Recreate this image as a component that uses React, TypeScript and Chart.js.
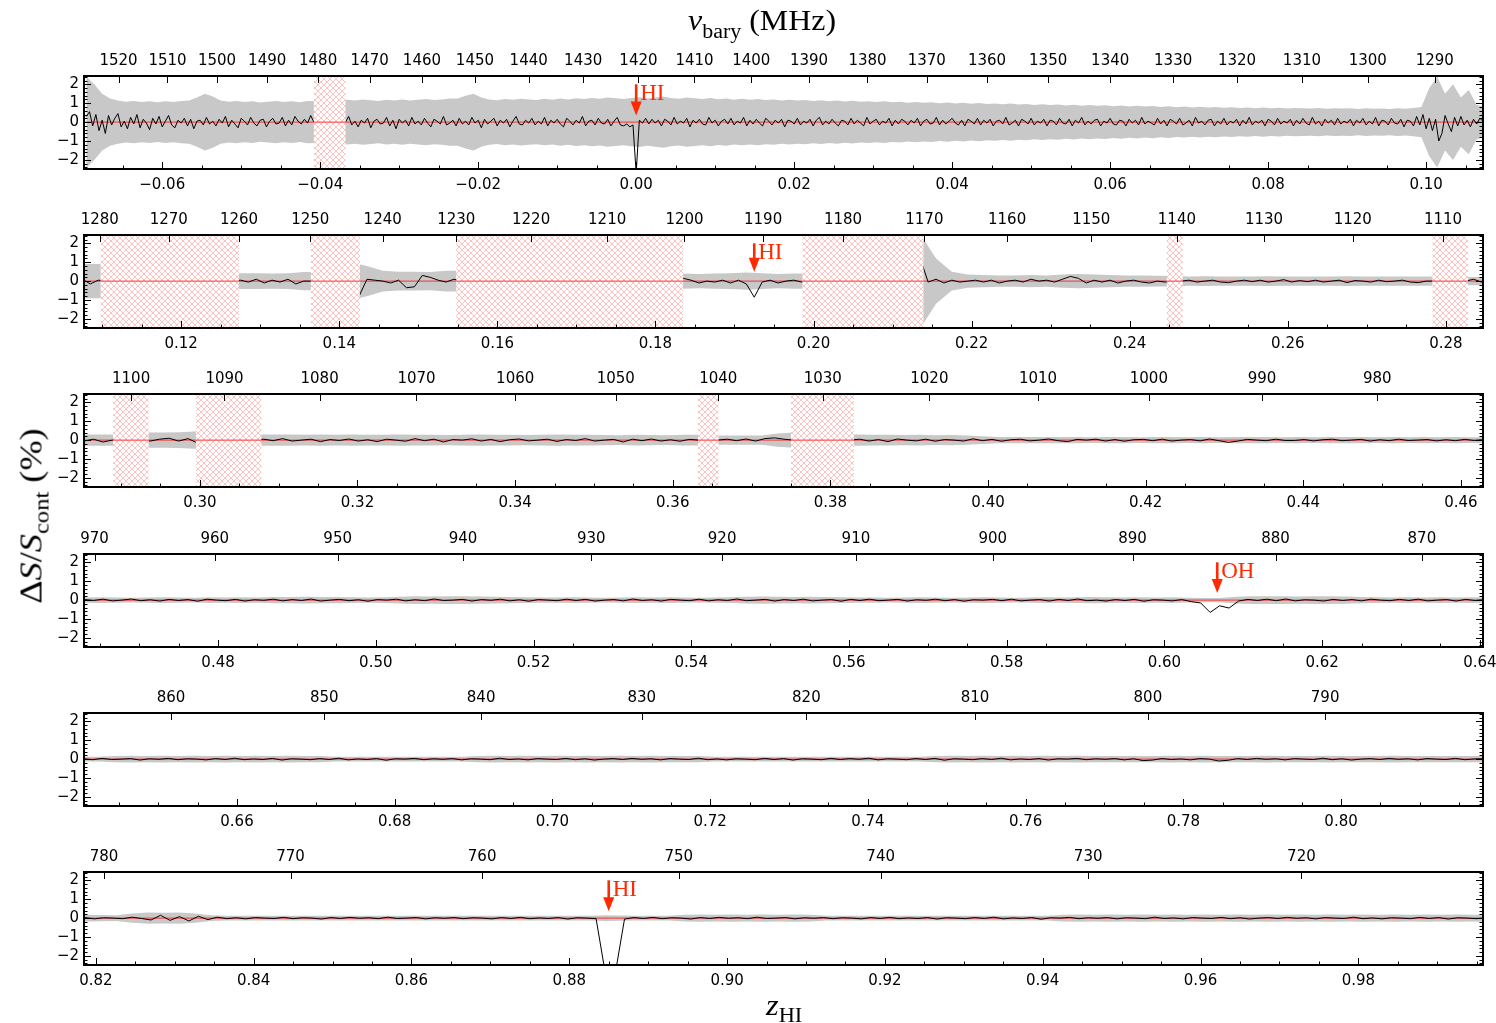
import React, { useEffect, useRef } from "react";
import { Chart, registerables } from "chart.js";
Chart.register(...registerables);

// ---------------- data ----------------
const NU_HI = 1420.405752; // MHz, rest frequency of HI

// panel z ranges
const range1 = [-0.0699, 0.1072];
const range2 = [0.1077, 0.2847];
const range3 = [0.2853, 0.4628];
const range4 = [0.463, 0.6404];
const range5 = [0.6406, 0.818];
const range6 = [0.8185, 0.9958];

// bottom tick labels (z)
const zTicks1 = [-0.06, -0.04, -0.02, 0.0, 0.02, 0.04, 0.06, 0.08, 0.1];
const zTicks2 = [0.12, 0.14, 0.16, 0.18, 0.2, 0.22, 0.24, 0.26, 0.28];
const zTicks3 = [0.3, 0.32, 0.34, 0.36, 0.38, 0.4, 0.42, 0.44, 0.46];
const zTicks4 = [0.48, 0.5, 0.52, 0.54, 0.56, 0.58, 0.6, 0.62, 0.64];
const zTicks5 = [0.66, 0.68, 0.7, 0.72, 0.74, 0.76, 0.78, 0.8];
const zTicks6 = [0.82, 0.84, 0.86, 0.88, 0.9, 0.92, 0.94, 0.96, 0.98];

// top tick labels (barycentric frequency, MHz)
const fTicks1 = [1520, 1510, 1500, 1490, 1480, 1470, 1460, 1450, 1440, 1430, 1420, 1410, 1400, 1390, 1380, 1370, 1360, 1350, 1340, 1330, 1320, 1310, 1300, 1290];
const fTicks2 = [1280, 1270, 1260, 1250, 1240, 1230, 1220, 1210, 1200, 1190, 1180, 1170, 1160, 1150, 1140, 1130, 1120, 1110];
const fTicks3 = [1100, 1090, 1080, 1070, 1060, 1050, 1040, 1030, 1020, 1010, 1000, 990, 980];
const fTicks4 = [970, 960, 950, 940, 930, 920, 910, 900, 890, 880, 870];
const fTicks5 = [860, 850, 840, 830, 820, 810, 800, 790];
const fTicks6 = [780, 770, 760, 750, 740, 730, 720];

// RFI-masked z intervals
const masks1 = [[-0.0408, -0.0368]];
const masks2 = [[0.1098, 0.1273], [0.1364, 0.1426], [0.1548, 0.1835], [0.1986, 0.2139], [0.2447, 0.2467], [0.2783, 0.2828]];
const masks3 = [[0.289, 0.2935], [0.2995, 0.3078], [0.3632, 0.3658], [0.375, 0.383]];
const masks4: number[][] = [];
const masks5: number[][] = [];
const masks6: number[][] = [];

// spectrum channel grids (start z, channel width in z)
const specStart = [-0.0696, 0.1075, 0.2853, 0.463, 0.6405, 0.8186];
const specStep = [0.0004, 0.001, 0.0012, 0.0012, 0.0012, 0.0012];

// spectra, dS/Scont in units of 0.01 %
const spec1 = [
  30, 55, -20, 40, -45, 10, -60, 35, -15, 20, 45, -25, 5, -35, 25, -10, 40, -30, 15, -5,
  -40, 20, -10, 30, -25, 5, 35, -15, -30, 10, -5, 20, -20, 15, -35, 5, 10, -15, 25, -10,
  5, -20, 15, -5, 30, -25, 10, -10, -30, 20, 5, -15, 25, -5, -20, 10, 15, -25, 5, 20,
  -10, -5, 25, -20, 10, -15, 30, 5, -10, 15, -5, 35, 0, 0, 0, 0, 0, 0, 0, 0,
  0, 0, 0, 30, -15, 5, -25, 10, -5, 20, -30, 5, 15, -10, -5, 25, -20, 10, -35, 15,
  -5, 10, -20, 25, -10, 5, -15, 20, -5, -25, 15, 5, -10, 30, -15, -5, 10, -20, 20, -10,
  5, -15, 25, -5, 10, -30, 15, -10, 5, 20, -20, 10, -5, 15, -25, 5, 30, -10, -15, 10,
  -5, 20, -15, 5, -10, 25, -20, 10, -5, 15, -10, -25, 20, 5, -15, 10, -5, 30, -20, 5,
  10, -15, 20, -5, -10, 15, -20, 5, 25, -15, -20, -10, -25, -15, -270, 10, -5, 20, -10, 15,
  -5, 10, -20, 15, 5, -15, 25, -10, 5, -5, 20, -25, 10, -5, 15, -10, -15, 25, -5, 10,
  -20, 5, 15, -10, 20, -15, 5, -5, 25, -20, 10, -10, 15, -5, -20, 20, 5, -15, 10, -5,
  15, -25, 10, 5, -10, 20, -15, 5, -5, 15, -20, 10, 25, -15, 5, -10, 15, -5, -20, 10,
  5, -15, 20, -10, 10, -5, -20, 25, -10, 5, 15, -15, 5, -5, 20, -20, 10, -10, 15, 5,
  -15, 10, -5, 20, -20, 5, 15, -10, -5, 25, -15, 10, -10, 5, 20, -5, -15, 10, -20, 15,
  5, -10, 20, -15, 10, -5, 15, -20, 5, 10, -10, 25, -15, -5, 10, -20, 15, 5, -10, 20,
  -15, 5, -5, 15, -20, 10, 5, -15, 20, -5, -10, 15, -20, 10, -5, 25, -15, 5, -10, 10,
  15, -20, 5, -5, 20, -10, -15, 10, 5, -20, 15, -5, 10, -15, 25, -10, 5, -5, -15, 20,
  -10, 10, -20, 15, 5, -10, 20, -15, -5, 10, -20, 25, -5, 5, -15, 10, 15, -20, 5, -10,
  20, -15, 5, -5, 15, -20, 10, -10, 25, -15, 5, -5, 10, -20, 15, 5, -15, 20, -10, 5,
  -5, 15, -20, 10, -10, 20, -5, -15, 25, -10, 5, -20, 15, -5, 10, -15, 20, -10, 5, -5,
  15, -20, 10, -5, 20, -15, 5, -10, 25, -20, 10, 5, -15, 20, -5, -10, 15, -25, 10, 5,
  -20, 30, -15, 40, -35, 20, -45, 15, -100, -60, 35, -10, -50, 25, -20, 30, -15, 10, -25, 15,
  -10, 20, 5,
];
const spec2 = [
  10, -15, 5,
  0, 0, 0, 0, 0, 0, 0, 0, 0, 0, 0, 0, 0, 0, 0, 0, 0,
  5, -5, 10, -10, 5, -5, 10, -15, 0,
  0, 0, 0, 0, 0, 0,
  -80,
  10, 5, 0, -10, 5, -35, -30, 30, 20, 5, -5, 10,
  0, 0, 0, 0, 0, 0, 0, 0, 0, 0, 0, 0, 0, 0, 0, 0, 0, 0, 0, 0, 0, 0, 0, 0, 0, 0, 0, 0,
  15, 5, -10, 0, -5, 5, -10, 5, -15, -85, -5, 5, -10, 0, 5, -5,
  0, 0, 0, 0, 0, 0, 0, 0, 0, 0, 0, 0, 0, 0,
  120,
  -5, 10, -10, 5, -5, 0, 5, -5, 5, -10, 0, 5, -5, 10, 0, 5, -5, 10, 25, 15, -10, 5, -5, 5, -10, 0, 5, -5, -10, 0, -5,
  0, 0,
  5, -5, 0, 5, -5, -8, 0, 5, -3, 5, -5, 0, 8, -5, 3, -3, 5, -5, 0, 5, -8, 3, 0, -5, 5, -3, 0, 5, -5, -8, 0,
  0, 0, 0, 0, 0,
  10, -5, 5,
];
const spec3 = [
  -5, 5, -10, 0,
  0, 0, 0,
  -5, 5, 10, -5, 8,
  -15,
  0, 0, 0, 0, 0, 0,
  5, -3, 8, -5, 0, 5, -8, 3, -2, 6,
  -5, 2, -8, 5, 0, -6, 8, -3, 5, -10,
  3, 0, 7, -5, 4, -8, 2, 6, -4, 0,
  5, -7, 3, -2, 8, -5, 0, 4, -10, 5,
  -3, 6, -5, 2, -6, 4,
  0, 0, 0,
  5, -3, 6, -5, 8, 12, 5,
  0, 0, 0, 0, 0, 0, 0,
  5, -5, 3, -8, 6, 0, -4, 5, -6, 3,
  0, -5, 7, -3, 4, -6, 2, 5, -4, 0,
  6, -3, -8, 4, 0, 5, -5, 3, -6, 2,
  4, -3, 5, -5, 0, 3, -4, 6, -3, -12,
  -5, 4, 0, -3, 5, -2, -2, 3, -4, 2,
  5, -3, 0, 4, -5, 2, -3, 5, -2, 0,
  3, -4, 2, -3, 4, -2, 3,
];
const spec4 = [
  3, -2, 5, -4, 0, 6, -3, 2, -5, 4,
  -2, 3, -6, 5, 0, -3, 4, -5, 2, -1,
  5, -4, 3, -2, 6, -5, 0, 4, -3, 2,
  -6, 3, 0, 5, -4, 2, -3, 6, -2, 0,
  4, -5, 3, -1, 5, -4, 2, -6, 3, 0,
  -3, 5, -2, 4, -5, 0, 3, -4, 6, -2,
  2, -5, 4, 0, -3, 5, -4, 2, -2, 6,
  -3, 0, 4, -5, 3, -2, 5, -4, 0, 3,
  -6, 4, -2, 5, -3, 0, 4, -5, 2, -1,
  5, -3, 3, -6, 2, 0, 4, -3, 5, -4,
  0, 3, -5, 4, -2, 6, -3, 0, -5, 3,
  -2, 4, -6, 2, 0, -4, 3, -8,
  -15, -65, -30, -42, -5,
  4, -2, 5, -3, 6, -4, 2,
  0, -5, 4, -2, 3, -4, 5, 0, -3, 4,
  -2, 5, -4, 0, 3, -5, 4, -2, 3,
];
const spec5 = [
  2, -3, 4, -2, 0, 3, -5, 2, -1, 4,
  -3, 2, 0, -4, 3, -2, 5, -3, 1, -2,
  4, -5, 2, 0, -3, 3, -2, 5, -4, 1,
  -2, 3, -6, 2, 0, 4, -3, 2, -1, 3,
  -4, 2, 0, -3, 5, -2, 1, -4, 3, 0,
  -2, 4, -3, 2, -5, 0, 3, -2, 4, -1,
  2, -4, 3, 0, -2, 5, -3, 1, -4, 2,
  0, -3, 4, -2, 3, -5, 2, 0, -3, 4,
  -2, 3, -1, 5, -4, 2, 0, -3, 3, -2,
  4, -6, 2, 0, -3, 3, -2, 5, -4, 1,
  -2, 3, -5, 2, 0, 4, -3, 2, -1, 3,
  -4, 2, -8, -5, 3, -2, 1, -4, 3, 0,
  -10, -6, 3, -2, 4, -1, 2, -4, 3, 0,
  -2, 5, -3, 2, -5, 0, 3, -2, 4, -1,
  2, -4, 3, 0, -2, 4, -3, 1, 2,
];
const spec6 = [
  3, -4, 2, 0, -3, 5, -2, -10, 15, -12,
  8, -15, 10, -8, 5, -3, 2, -4, 3, 0,
  -2, 4, -3, 2, 0, -5, 3, -2, 4, -1,
  2, -3, 5, -2, 0, 3, -4, 2, -1, 3,
  -3, 2, 0, -4, 3, -2, 4, -3, 1, -2,
  3, -5, 2, 0,
  -3, -300, -300, -5,
  3, -2,
  4, -3, 2, 0, -5, 3, -2, 4, -1, 2,
  -3, 5, -2, 0, 3, -4, 2, -1, 3, -3,
  2, 0, -4, 3, -2, 4, -3, 1, -2, 3,
  -5, 2, 0, -3, 3, -2, 5, -4, 1, -2,
  3, -6, 2, 0, 4, -3, 2, -1, 3, -4,
  2, 0, -3, 5, -2, 1, -4, 3, 0, -2,
  4, -3, 2, -5, 0, 3, -2, 4, -1, 2,
  -4, 3, 0, -2, 5, -3, 1, -4, 2, 0,
  -3, 4, -2, 3, -5, 2, 0, -3, 2,
];

// 1-sigma noise envelope, units of 0.01 %, sampled on a regular z grid
const sigStart = [-0.0696, 0.1075, 0.2853, 0.463, 0.6405, 0.8186];
const sigStep = [0.001, 0.002, 0.002, 0.002, 0.002, 0.002];
const sigma1 = [
  240, 200, 150, 125, 115, 108, 112, 106, 110, 105,
  110, 107, 112, 115, 130, 150, 135, 115, 108, 112,
  106, 110, 104, 108, 112, 107, 110, 105, 112, 110,
  110, 112, 112, 118, 114, 120, 116, 112, 118, 115,
  120, 114, 118, 122, 117, 120, 125, 125, 140, 150,
  130, 120, 116, 122, 118, 124, 120, 117, 123, 119,
  125, 120, 126, 122, 128, 124, 130, 126, 122, 128,
  132, 125, 130, 135, 128, 124, 130, 126, 122, 127,
  121, 125, 119, 123, 118, 122, 117, 120, 115, 119,
  114, 117, 112, 116, 111, 114, 109, 113, 108, 111,
  106, 110, 105, 108, 103, 107, 102, 105, 100, 104,
  99, 102, 97, 101, 96, 99, 94, 98, 93, 96,
  91, 95, 90, 93, 88, 92, 87, 90, 86, 89,
  84, 88, 83, 86, 82, 85, 80, 84, 79, 82,
  78, 81, 77, 80, 76, 79, 75, 78, 74, 77,
  73, 76, 72, 75, 74, 72, 75, 71, 74, 72,
  73, 70, 74, 71, 72, 70, 73, 71, 75, 80,
  180, 240, 150, 200, 130, 170, 90, 80,
];
const sigma2 = [
  90, 90, 90, 90, 80, 70, 60, 50, 42, 42,
  42, 42, 40, 42, 48, 48, 100, 100, 80, 55,
  50, 50, 48, 55, 55, 55, 50, 50, 50, 50,
  50, 45, 45, 45, 45, 40, 40, 40, 40, 38,
  40, 42, 45, 42, 38, 40, 40, 40, 40, 40,
  40, 60, 100, 250, 120, 50, 35, 32, 30, 30,
  32, 30, 35, 38, 35, 32, 30, 30, 28, 28,
  25, 26, 25, 24, 25, 26, 25, 24, 25, 25,
  26, 25, 24, 25, 24, 25, 25, 22, 22, 22,
];
const sigma3 = [
  30, 30, 30, 40, 40, 40, 42, 45, 45, 30,
  30, 30, 30, 30, 28, 30, 28, 30, 28, 28,
  30, 28, 28, 27, 28, 30, 28, 28, 27, 28,
  30, 28, 28, 27, 26, 28, 27, 26, 28, 28,
  25, 25, 24, 25, 35, 40, 30, 30, 30, 30,
  28, 28, 27, 28, 26, 27, 25, 20, 17, 17,
  16, 17, 16, 16, 15, 17, 16, 15, 16, 17,
  15, 16, 15, 16, 17, 16, 15, 16, 15, 16,
  17, 16, 15, 16, 15, 16, 15, 16, 15, 16,
];
const sigma4 = [
  14, 15, 14, 13, 14, 15, 14, 13, 15, 14,
  15, 14, 16, 17, 18, 17, 16, 15, 14, 15,
  18, 20, 19, 20, 21, 19, 18, 16, 15, 14,
  14, 15, 14, 13, 14, 15, 14, 15, 14, 13,
  14, 15, 18, 19, 18, 17, 18, 16, 15, 14,
  14, 13, 14, 15, 14, 13, 14, 15, 14, 13,
  14, 15, 14, 15, 16, 15, 14, 15, 14, 15,
  12, 11, 11, 18, 20, 21, 20, 19, 20, 21,
  19, 16, 15, 14, 15, 14, 15, 14, 15, 14,
];
const sigma5 = [
  12, 13, 17, 18, 17, 18, 17, 18, 17, 18,
  17, 18, 17, 18, 17, 16, 12, 12, 13, 12,
  12, 13, 12, 13, 12, 17, 18, 17, 18, 17,
  18, 17, 18, 17, 18, 17, 18, 17, 16, 17,
  13, 12, 13, 12, 13, 12, 13, 12, 12, 13,
  12, 13, 12, 13, 17, 18, 17, 18, 17, 18,
  17, 18, 17, 18, 17, 16, 17, 16, 17, 18,
  17, 18, 17, 16, 17, 18, 17, 16, 17, 18,
  17, 16, 17, 18, 17, 16, 17, 16, 17, 16,
];
const sigma6 = [
  18, 17, 15, 25, 30, 28, 30, 25, 15, 13,
  12, 13, 12, 13, 12, 13, 12, 13, 12, 13,
  12, 13, 12, 13, 12, 13, 12, 13, 12, 13,
  12, 13, 13, 15, 14, 12, 13, 12, 18, 19,
  18, 19, 18, 19, 18, 19, 18, 13, 12, 13,
  12, 13, 12, 13, 12, 13, 12, 13, 12, 13,
  12, 13, 18, 19, 18, 19, 18, 19, 18, 19,
  18, 19, 18, 19, 18, 19, 18, 19, 18, 19,
  18, 19, 18, 19, 18, 19, 18, 19, 18, 19,
];

// line identifications: panel index, z, label, arrow tip (in %)
const linePanels = [0, 1, 3, 5];
const lineZ = [0.0, 0.1925, 0.6067, 0.885];
const lineLabels = ["HI", "HI", "OH", "HI"];
const lineTips = [0.35, 0.5, 0.38, 0.36];

// ---------------- layout & style ----------------
const W = 1496;
const PANEL_TOPS = [76, 235, 394, 554, 713, 872];
const PLOT_H = 93;
const TOP_H = 45;
const BOT_H = 32;
const LEFT_W = 84;
const RIGHT_PAD = 13;
const CANVAS_H = TOP_H + PLOT_H + BOT_H;
const Y_MIN = -2.48;
const Y_MAX = 2.44;
const GRAY = "#c8c8c8";
const RED = "#ff3030";
const ARROW = "#ff2a00";
const TICK_FONT = { family: "DejaVu Sans", size: 15 };

const ranges = [range1, range2, range3, range4, range5, range6];
const zTicks = [zTicks1, zTicks2, zTicks3, zTicks4, zTicks5, zTicks6];
const fTicks = [fTicks1, fTicks2, fTicks3, fTicks4, fTicks5, fTicks6];
const masks = [masks1, masks2, masks3, masks4, masks5, masks6];
const specs = [spec1, spec2, spec3, spec4, spec5, spec6];
const sigmas = [sigma1, sigma2, sigma3, sigma4, sigma5, sigma6];

const minus = (s: string) => s.replace("-", "\u2212");
const fmtZ = (v: number) => minus((Math.abs(v) < 1e-9 ? 0 : v).toFixed(2));

function makeHatch(ctx: CanvasRenderingContext2D) {
  const c = document.createElement("canvas");
  c.width = 6;
  c.height = 6;
  const g = c.getContext("2d")!;
  g.strokeStyle = "rgba(255,110,110,0.55)";
  g.lineWidth = 0.8;
  g.beginPath();
  g.moveTo(0, 0);
  g.lineTo(6, 6);
  g.moveTo(6, 0);
  g.lineTo(0, 6);
  g.stroke();
  return ctx.createPattern(c, "repeat")!;
}

function makeChart(canvas: HTMLCanvasElement, p: number) {
  const [zmin, zmax] = ranges[p];
  const specData = specs[p].map((v, i) => ({ x: specStart[p] + i * specStep[p], y: v / 100 }));
  const upData = sigmas[p].map((v, i) => ({ x: sigStart[p] + i * sigStep[p], y: v / 100 }));
  const loData = sigmas[p].map((v, i) => ({ x: sigStart[p] + i * sigStep[p], y: -v / 100 }));

  const decor = {
    id: "decor" + p,
    afterDatasetsDraw(chart: any) {
      const { ctx, chartArea: a, scales } = chart;
      const x = scales.x, y = scales.y;
      const pat = makeHatch(ctx);
      ctx.save();
      ctx.beginPath();
      ctx.rect(a.left, a.top, a.right - a.left, a.bottom - a.top);
      ctx.clip();
      const y0 = y.getPixelForValue(0);
      for (const [m0, m1] of masks[p]) {
        const x0 = x.getPixelForValue(m0), x1 = x.getPixelForValue(m1);
        ctx.fillStyle = "#fff";
        ctx.fillRect(x0, a.top, x1 - x0, a.bottom - a.top);
        ctx.fillStyle = pat;
        ctx.fillRect(x0, a.top, x1 - x0, a.bottom - a.top);
        ctx.strokeStyle = RED;
        ctx.lineWidth = 1;
        ctx.beginPath();
        ctx.moveTo(x0, y0);
        ctx.lineTo(x1, y0);
        ctx.stroke();
      }
      ctx.restore();
    },
    afterDraw(chart: any) {
      const { ctx, chartArea: a, scales } = chart;
      const x = scales.x, y = scales.y;
      ctx.save();
      // arrows
      linePanels.forEach((lp, k) => {
        if (lp !== p) return;
        const px = x.getPixelForValue(lineZ[k]);
        const yTop = y.getPixelForValue(2.0);
        const yTip = y.getPixelForValue(lineTips[k]);
        ctx.strokeStyle = ARROW;
        ctx.fillStyle = ARROW;
        ctx.lineWidth = 2.6;
        ctx.beginPath();
        ctx.moveTo(px, yTop);
        ctx.lineTo(px, yTip - 12);
        ctx.stroke();
        ctx.beginPath();
        ctx.moveTo(px - 5.5, yTip - 14);
        ctx.lineTo(px + 5.5, yTip - 14);
        ctx.lineTo(px, yTip);
        ctx.closePath();
        ctx.fill();
        ctx.font = '23px "Liberation Serif"';
        ctx.textBaseline = "alphabetic";
        ctx.textAlign = "left";
        ctx.fillText(lineLabels[k], px + 4, y.getPixelForValue(1.18));
      });
      // ticks
      ctx.strokeStyle = "#000";
      ctx.lineWidth = 1;
      ctx.beginPath();
      for (let k = Math.ceil(zmin / 0.005 - 1e-6); k * 0.005 <= zmax + 1e-9; k++) {
        const px = Math.round(x.getPixelForValue(k * 0.005)) + 0.5;
        const len = k % 4 === 0 ? 7 : 3.5;
        ctx.moveTo(px, a.bottom);
        ctx.lineTo(px, a.bottom - len);
      }
      for (const f of fTicks[p]) {
        const px = Math.round(x.getPixelForValue(NU_HI / f - 1)) + 0.5;
        ctx.moveTo(px, a.top);
        ctx.lineTo(px, a.top + 7);
      }
      for (let k = Math.ceil(Y_MIN / 0.2 - 1e-6); k * 0.2 <= Y_MAX + 1e-9; k++) {
        const py = Math.round(y.getPixelForValue(k * 0.2)) + 0.5;
        const len = k % 5 === 0 ? 7 : 3.5;
        ctx.moveTo(a.left, py);
        ctx.lineTo(a.left + len, py);
        ctx.moveTo(a.right, py);
        ctx.lineTo(a.right - len, py);
      }
      ctx.stroke();
      // frame
      ctx.lineWidth = 2;
      ctx.strokeRect(a.left, a.top, a.right - a.left, a.bottom - a.top);
      ctx.restore();
    },
  };

  return new Chart(canvas, {
    type: "line",
    data: {
      datasets: [
        { data: specData, borderColor: "#000", borderWidth: 1, pointRadius: 0, fill: false, order: 0 } as any,
        { data: [{ x: zmin, y: 0 }, { x: zmax, y: 0 }], borderColor: RED, borderWidth: 1, pointRadius: 0, fill: false, order: 1 },
        { data: upData, borderColor: "rgba(0,0,0,0)", borderWidth: 1, backgroundColor: GRAY, pointRadius: 0, fill: 3, order: 2 },
        { data: loData, borderColor: "rgba(0,0,0,0)", borderWidth: 1, pointRadius: 0, fill: false, order: 3 },
      ],
    },
    options: {
      animation: false,
      responsive: false,
      devicePixelRatio: 1,
      events: [],
      layout: { padding: { left: 0, right: RIGHT_PAD, top: 0, bottom: 0 } },
      plugins: { legend: { display: false }, tooltip: { enabled: false } },
      elements: { line: { tension: 0 } },
      scales: {
        x: {
          type: "linear",
          position: "bottom",
          min: zmin,
          max: zmax,
          grid: { display: false, drawTicks: false },
          border: { display: false },
          ticks: { font: TICK_FONT, color: "#000", padding: 7, maxRotation: 0, autoSkip: false, callback: (v: any) => fmtZ(Number(v)) },
          afterBuildTicks: (s: any) => { s.ticks = zTicks[p].map((v) => ({ value: v })); },
          afterFit: (s: any) => { s.height = BOT_H; s.paddingLeft = 0; s.paddingRight = 0; },
        },
        x2: {
          type: "linear",
          position: "top",
          min: zmin,
          max: zmax,
          grid: { display: false, drawTicks: false },
          border: { display: false },
          ticks: { font: TICK_FONT, color: "#000", padding: 6, maxRotation: 0, autoSkip: false, callback: (_v: any, i: number) => String(fTicks[p][i]) },
          afterBuildTicks: (s: any) => { s.ticks = fTicks[p].map((f) => ({ value: NU_HI / f - 1 })); },
          afterFit: (s: any) => { s.height = TOP_H; s.paddingLeft = 0; s.paddingRight = 0; },
        },
        y: {
          type: "linear",
          position: "left",
          min: Y_MIN,
          max: Y_MAX,
          grid: { display: false, drawTicks: false },
          border: { display: false },
          ticks: { font: TICK_FONT, color: "#000", padding: 5, autoSkip: false, callback: (v: any) => minus(String(Math.round(Number(v)))) },
          afterBuildTicks: (s: any) => { s.ticks = [-2, -1, 0, 1, 2].map((v) => ({ value: v })); },
          afterFit: (s: any) => { s.width = LEFT_W; s.paddingTop = 0; s.paddingBottom = 0; },
        },
      },
    } as any,
    plugins: [decor],
  });
}

const serif = '"Liberation Serif", "DejaVu Serif", serif';

export default function App() {
  const refs = useRef<(HTMLCanvasElement | null)[]>([]);
  useEffect(() => {
    const charts = ranges.map((_, p) => makeChart(refs.current[p]!, p));
    return () => charts.forEach((c) => c.destroy());
  }, []);
  return (
    <div style={{ position: "absolute", left: 0, top: 0, width: W, height: 1023, background: "#fff", overflow: "hidden" }}>
      {ranges.map((_, p) => (
        <canvas
          key={p}
          ref={(el) => { refs.current[p] = el; }}
          width={W}
          height={CANVAS_H}
          style={{ position: "absolute", left: 0, top: PANEL_TOPS[p] - TOP_H, width: W, height: CANVAS_H, display: "block" }}
        />
      ))}
      <div
        style={{
          position: "absolute", left: 688, top: 2, fontFamily: serif, fontSize: 29, whiteSpace: "nowrap",
          lineHeight: "36px", transform: "scaleX(1.1)", transformOrigin: "0 0",
        }}
      >
        <span style={{ fontStyle: "italic" }}>ν</span>
        <span style={{ fontSize: 20, position: "relative", top: 8 }}>bary</span>
        <span> (MHz)</span>
      </div>
      <div
        style={{
          position: "absolute", left: 766, top: 990, fontFamily: serif, fontSize: 29, whiteSpace: "nowrap",
          lineHeight: "30px", transform: "scaleX(1.12)", transformOrigin: "0 0",
        }}
      >
        <span style={{ fontStyle: "italic" }}>z</span>
        <span style={{ fontSize: 20, position: "relative", top: 7 }}>HI</span>
      </div>
      <div
        style={{
          position: "absolute",
          left: 33,
          top: 516,
          transform: "translate(-50%, -50%) rotate(-90deg) scaleX(1.17)",
          fontFamily: serif,
          fontSize: 31,
          whiteSpace: "nowrap",
          lineHeight: "34px",
        }}
      >
        <span>Δ</span>
        <span style={{ fontStyle: "italic" }}>S</span>
        <span>/</span>
        <span style={{ fontStyle: "italic" }}>S</span>
        <span style={{ fontSize: 21, position: "relative", top: 7 }}>cont</span>
        <span> (%)</span>
      </div>
    </div>
  );
}
